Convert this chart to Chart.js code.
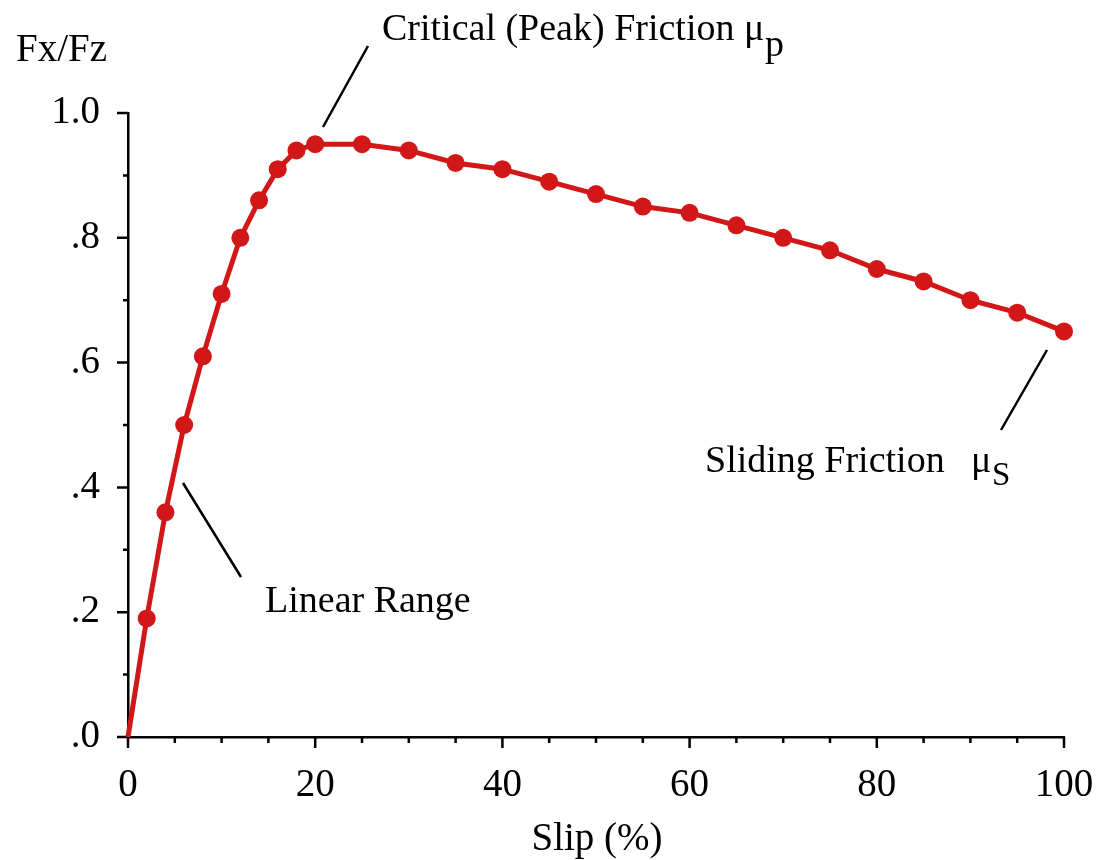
<!DOCTYPE html>
<html>
<head>
<meta charset="utf-8">
<script src="https://cdn.jsdelivr.net/npm/chart.js@4/dist/chart.umd.min.js"></script>
<style>
  html, body { margin: 0; padding: 0; background: #fff; }
  #wrap { width: 1101px; height: 860px; }
</style>
</head>
<body>
<div id="wrap"><canvas id="frictionChart" width="1101" height="860"></canvas></div>
<script>
// slip ratio (%) and normalised longitudinal force Fx/Fz
const slip = [0, 2, 4, 6, 8, 10, 12, 14, 16, 18, 20, 25, 30, 35, 40, 45, 50, 55, 60, 65, 70, 75, 80, 85, 90, 95, 100];
const fxfz = [0, 0.19, 0.36, 0.50, 0.61, 0.71, 0.80, 0.86, 0.91, 0.94, 0.95, 0.95, 0.94, 0.92, 0.91, 0.89, 0.87, 0.85, 0.84, 0.82, 0.80, 0.78, 0.75, 0.73, 0.70, 0.68, 0.65];

const xMajor = [0, 20, 40, 60, 80, 100];
const xMinor = [5, 10, 15, 25, 30, 35, 45, 50, 55, 65, 70, 75, 85, 90, 95];
const yMajor = [0, 0.2, 0.4, 0.6, 0.8, 1.0];
const yMinor = [0.1, 0.3, 0.5, 0.7, 0.9];
const yLabels = ['.0', '.2', '.4', '.6', '.8', '1.0'];

const FONT = "'Liberation Serif', 'Times New Roman', serif";
const RED = '#d21719';

// axis ticks (major long, minor short) and the annotations
const decorations = {
    id: 'decorations',
    beforeDatasetsDraw(chart) {
        const { ctx, scales: { x, y } } = chart;
        ctx.save();
        ctx.strokeStyle = '#000';
        ctx.lineWidth = 2.5;
        ctx.beginPath();
        yMajor.forEach(v => { const p = y.getPixelForValue(v); ctx.moveTo(x.left - 11, p); ctx.lineTo(x.left, p); });
        yMinor.forEach(v => { const p = y.getPixelForValue(v); ctx.moveTo(x.left - 5, p); ctx.lineTo(x.left, p); });
        xMajor.forEach(v => { const p = x.getPixelForValue(v); ctx.moveTo(p, y.bottom); ctx.lineTo(p, y.bottom + 11); });
        xMinor.forEach(v => { const p = x.getPixelForValue(v); ctx.moveTo(p, y.bottom); ctx.lineTo(p, y.bottom + 6); });
        // x axis runs on to the left, under the .0 tick
        ctx.moveTo(x.left - 11, y.bottom); ctx.lineTo(x.left, y.bottom);
        ctx.stroke();
        ctx.restore();
    },
    afterDraw(chart) {
        const { ctx } = chart;
        ctx.save();
        ctx.fillStyle = '#000';
        ctx.strokeStyle = '#000';
        ctx.lineWidth = 2.5;
        ctx.textBaseline = 'alphabetic';
        ctx.textAlign = 'left';
        ctx.font = `39px ${FONT}`;

        ctx.fillText('Fx/Fz', 16, 61);
        ctx.textAlign = 'center';
        ctx.fillText('Slip (%)', 597, 850);
        ctx.textAlign = 'left';

        // leader lines
        ctx.beginPath();
        ctx.moveTo(323, 127); ctx.lineTo(368, 46);
        ctx.moveTo(1047, 350); ctx.lineTo(1001, 430);
        ctx.moveTo(183, 483); ctx.lineTo(241, 577);
        ctx.stroke();

        ctx.font = `38px ${FONT}`;
        ctx.fillText('Critical (Peak) Friction \u03BC', 382, 40);
        ctx.fillText('p', 765, 56);
        ctx.fillText('Sliding Friction', 705, 472);
        ctx.fillText('\u03BC', 971, 472);
        ctx.fillText('Linear Range', 265, 612);
        ctx.font = `33px ${FONT}`;
        ctx.fillText('S', 992, 485);
        ctx.restore();
    }
};

new Chart(document.getElementById('frictionChart').getContext('2d'), {
    type: 'scatter',
    data: {
        datasets: [{
            data: slip.map((s, i) => ({ x: s, y: fxfz[i] })),
            showLine: true,
            borderColor: RED,
            backgroundColor: RED,
            borderWidth: 5,
            pointRadius: ctx => ctx.dataIndex === 0 ? 0 : 9,
            pointBorderWidth: 0,
            tension: 0,
            clip: false
        }]
    },
    options: {
        responsive: false,
        animation: false,
        events: [],
        layout: { padding: { top: 113, right: 37, left: 0, bottom: 0 } },
        plugins: { legend: { display: false }, tooltip: { enabled: false } },
        scales: {
            x: {
                type: 'linear', min: 0, max: 100,
                afterFit: s => { s.height = 123; s.paddingLeft = 0; s.paddingRight = 0; },
                afterBuildTicks: s => { s.ticks = xMajor.map(v => ({ value: v })); },
                grid: { display: false, drawTicks: false },
                border: { display: true, color: '#000', width: 2.5 },
                ticks: { color: '#000', font: { family: FONT, size: 39 }, padding: 25, maxRotation: 0 }
            },
            y: {
                type: 'linear', min: 0, max: 1,
                afterFit: s => { s.width = 128; s.paddingTop = 0; s.paddingBottom = 0; },
                afterBuildTicks: s => { s.ticks = yMajor.map(v => ({ value: v })); },
                grid: { display: false, drawTicks: false },
                border: { display: true, color: '#000', width: 2.5 },
                ticks: {
                    color: '#000', font: { family: FONT, size: 39 }, padding: 28,
                    callback: (v, i) => yLabels[i]
                }
            }
        }
    },
    plugins: [decorations]
});
</script>
</body>
</html>
